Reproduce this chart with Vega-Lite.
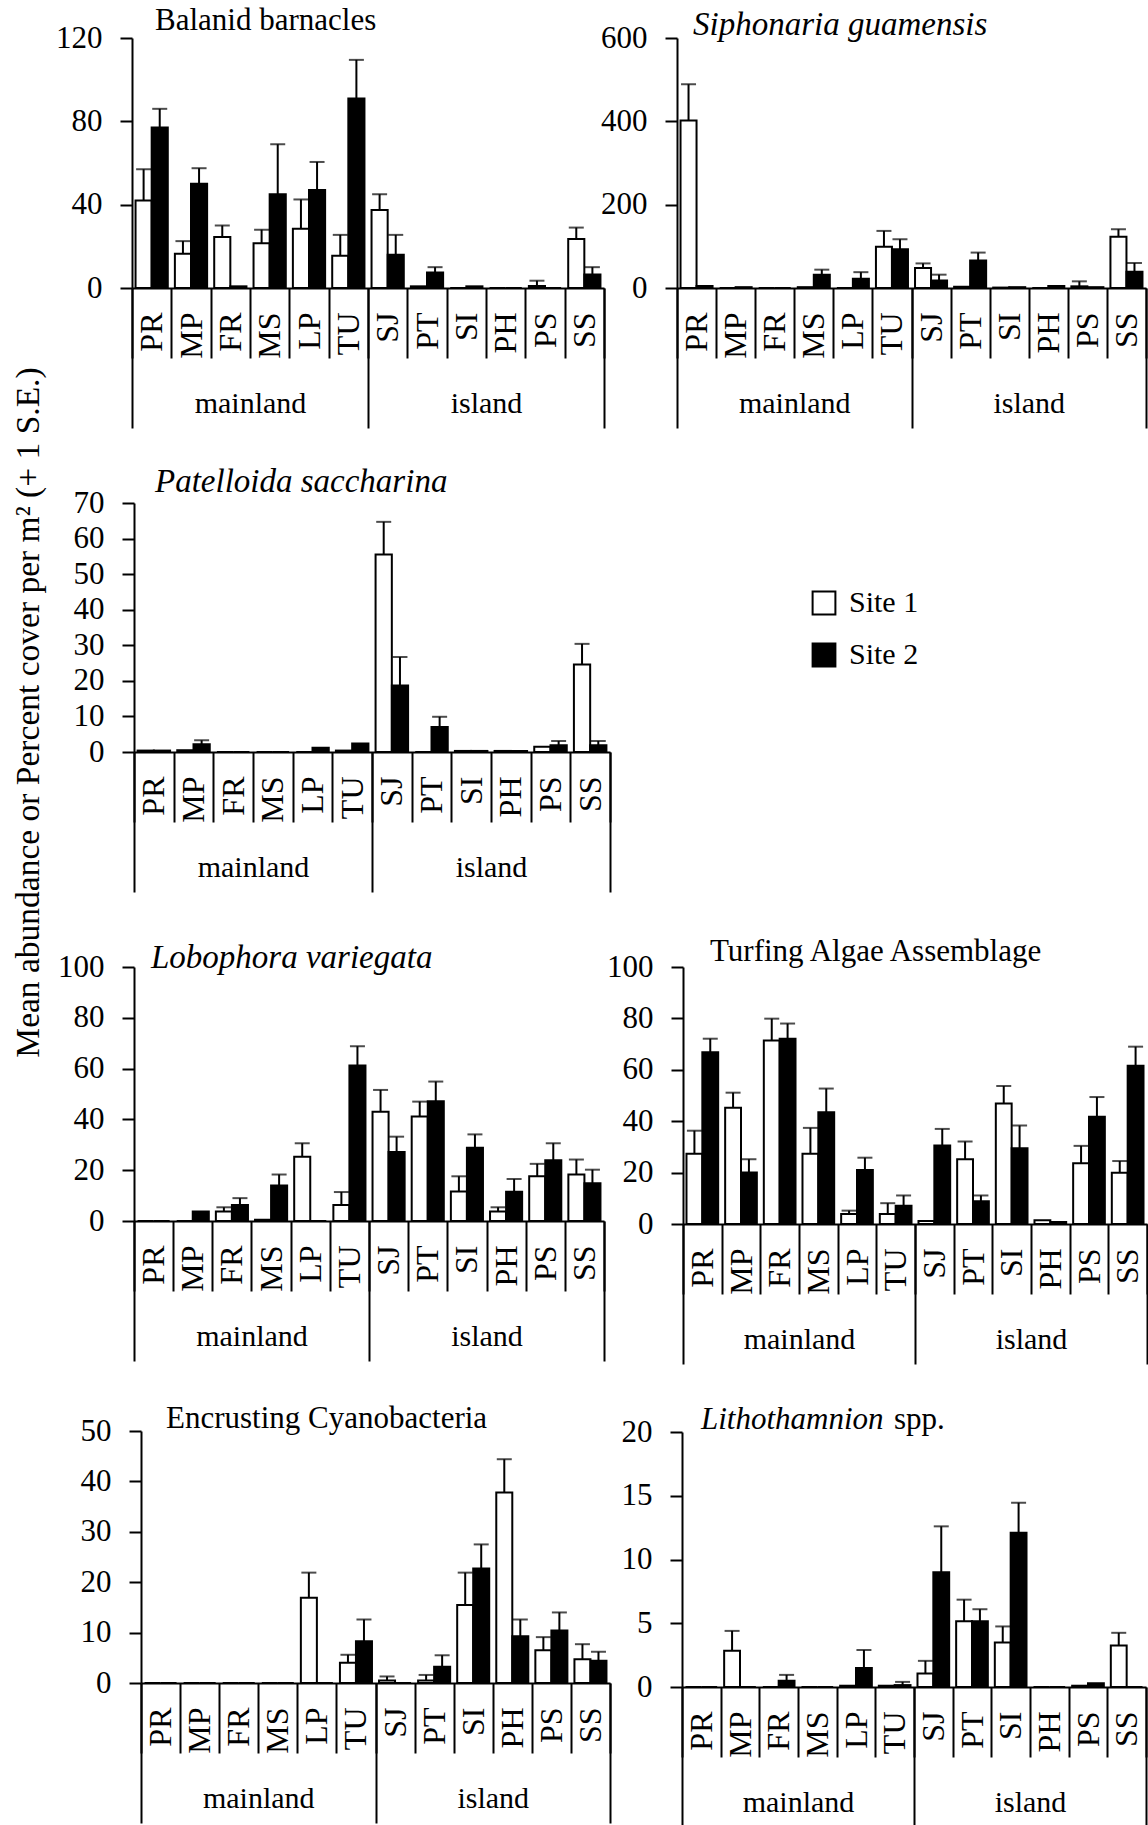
{
"$schema": "https://vega.github.io/schema/vega-lite/v6.json",
"width": 1148, "height": 1825, "autosize": {"type": "none"}, "padding": 0, "background": "white",
"config": {
  "view": {"stroke": null},
  "font": "Liberation Serif",
  "axis": {"grid": false, "labelFont": "Liberation Serif", "labelFontSize": 30, "labelColor": "black", "labelFontWeight": "normal", "tickColor": "black", "tickWidth": 2, "domainColor": "black", "domainWidth": 2, "titleFont": "Liberation Serif", "titleColor": "black", "titleFontWeight": "normal", "labelOverlap": false, "labelFlush": false},
  "axisY": {"labelFontSize": 31, "tickSize": 12, "labelPadding": 18},
  "text": {"font": "Liberation Serif", "fontSize": 31, "color": "black"}
},
"datasets": {"d": [
{"panel":"bal","site":"PR","series":"Site 1","mean":42,"upper":57},{"panel":"bal","site":"PR","series":"Site 2","mean":77,"upper":86},
{"panel":"bal","site":"MP","series":"Site 1","mean":16.5,"upper":22.5},{"panel":"bal","site":"MP","series":"Site 2","mean":50,"upper":57.5},
{"panel":"bal","site":"FR","series":"Site 1","mean":24.5,"upper":30},{"panel":"bal","site":"FR","series":"Site 2","mean":0.8,"upper":null},
{"panel":"bal","site":"MS","series":"Site 1","mean":21.5,"upper":28},{"panel":"bal","site":"MS","series":"Site 2","mean":45,"upper":69},
{"panel":"bal","site":"LP","series":"Site 1","mean":28.5,"upper":42.5},{"panel":"bal","site":"LP","series":"Site 2","mean":47,"upper":60.5},
{"panel":"bal","site":"TU","series":"Site 1","mean":15.5,"upper":25.5},{"panel":"bal","site":"TU","series":"Site 2","mean":91,"upper":109.5},
{"panel":"bal","site":"SJ","series":"Site 1","mean":37.5,"upper":45},{"panel":"bal","site":"SJ","series":"Site 2","mean":16,"upper":25.5},
{"panel":"bal","site":"PT","series":"Site 1","mean":0.8,"upper":null},{"panel":"bal","site":"PT","series":"Site 2","mean":7.5,"upper":10},
{"panel":"bal","site":"SI","series":"Site 1","mean":0,"upper":null},{"panel":"bal","site":"SI","series":"Site 2","mean":0.8,"upper":null},
{"panel":"bal","site":"PH","series":"Site 1","mean":0,"upper":null},{"panel":"bal","site":"PH","series":"Site 2","mean":0,"upper":null},
{"panel":"bal","site":"PS","series":"Site 1","mean":1,"upper":3.5},{"panel":"bal","site":"PS","series":"Site 2","mean":0,"upper":null},
{"panel":"bal","site":"SS","series":"Site 1","mean":23.5,"upper":29},{"panel":"bal","site":"SS","series":"Site 2","mean":6.5,"upper":10},
{"panel":"sip","site":"PR","series":"Site 1","mean":402,"upper":489},{"panel":"sip","site":"PR","series":"Site 2","mean":5,"upper":null},
{"panel":"sip","site":"MP","series":"Site 1","mean":0,"upper":null},{"panel":"sip","site":"MP","series":"Site 2","mean":2,"upper":null},
{"panel":"sip","site":"FR","series":"Site 1","mean":0,"upper":null},{"panel":"sip","site":"FR","series":"Site 2","mean":0,"upper":null},
{"panel":"sip","site":"MS","series":"Site 1","mean":2,"upper":null},{"panel":"sip","site":"MS","series":"Site 2","mean":32,"upper":44},
{"panel":"sip","site":"LP","series":"Site 1","mean":0,"upper":null},{"panel":"sip","site":"LP","series":"Site 2","mean":22,"upper":38},
{"panel":"sip","site":"TU","series":"Site 1","mean":99,"upper":137},{"panel":"sip","site":"TU","series":"Site 2","mean":93,"upper":117},
{"panel":"sip","site":"SJ","series":"Site 1","mean":48,"upper":59},{"panel":"sip","site":"SJ","series":"Site 2","mean":18,"upper":32},
{"panel":"sip","site":"PT","series":"Site 1","mean":3,"upper":null},{"panel":"sip","site":"PT","series":"Site 2","mean":66,"upper":85},
{"panel":"sip","site":"SI","series":"Site 1","mean":1,"upper":null},{"panel":"sip","site":"SI","series":"Site 2","mean":2,"upper":null},
{"panel":"sip","site":"PH","series":"Site 1","mean":0,"upper":null},{"panel":"sip","site":"PH","series":"Site 2","mean":5,"upper":null},
{"panel":"sip","site":"PS","series":"Site 1","mean":4,"upper":16},{"panel":"sip","site":"PS","series":"Site 2","mean":2,"upper":null},
{"panel":"sip","site":"SS","series":"Site 1","mean":123,"upper":141},{"panel":"sip","site":"SS","series":"Site 2","mean":39,"upper":60},
{"panel":"pat","site":"PR","series":"Site 1","mean":0.4,"upper":null},{"panel":"pat","site":"PR","series":"Site 2","mean":0.4,"upper":null},
{"panel":"pat","site":"MP","series":"Site 1","mean":0.5,"upper":null},{"panel":"pat","site":"MP","series":"Site 2","mean":2.2,"upper":3.3},
{"panel":"pat","site":"FR","series":"Site 1","mean":0,"upper":null},{"panel":"pat","site":"FR","series":"Site 2","mean":0,"upper":null},
{"panel":"pat","site":"MS","series":"Site 1","mean":0,"upper":null},{"panel":"pat","site":"MS","series":"Site 2","mean":0,"upper":null},
{"panel":"pat","site":"LP","series":"Site 1","mean":0,"upper":null},{"panel":"pat","site":"LP","series":"Site 2","mean":1.2,"upper":null},
{"panel":"pat","site":"TU","series":"Site 1","mean":0.4,"upper":null},{"panel":"pat","site":"TU","series":"Site 2","mean":2.4,"upper":null},
{"panel":"pat","site":"SJ","series":"Site 1","mean":55.5,"upper":64.7},{"panel":"pat","site":"SJ","series":"Site 2","mean":18.7,"upper":26.7},
{"panel":"pat","site":"PT","series":"Site 1","mean":0,"upper":null},{"panel":"pat","site":"PT","series":"Site 2","mean":7,"upper":9.9},
{"panel":"pat","site":"SI","series":"Site 1","mean":0.3,"upper":null},{"panel":"pat","site":"SI","series":"Site 2","mean":0.3,"upper":null},
{"panel":"pat","site":"PH","series":"Site 1","mean":0.3,"upper":null},{"panel":"pat","site":"PH","series":"Site 2","mean":0.3,"upper":null},
{"panel":"pat","site":"PS","series":"Site 1","mean":1.5,"upper":null},{"panel":"pat","site":"PS","series":"Site 2","mean":1.9,"upper":3.1},
{"panel":"pat","site":"SS","series":"Site 1","mean":24.6,"upper":30.4},{"panel":"pat","site":"SS","series":"Site 2","mean":1.9,"upper":3.1},
{"panel":"lob","site":"PR","series":"Site 1","mean":0,"upper":null},{"panel":"lob","site":"PR","series":"Site 2","mean":0,"upper":null},
{"panel":"lob","site":"MP","series":"Site 1","mean":0,"upper":null},{"panel":"lob","site":"MP","series":"Site 2","mean":3.7,"upper":null},
{"panel":"lob","site":"FR","series":"Site 1","mean":3.7,"upper":5.4},{"panel":"lob","site":"FR","series":"Site 2","mean":6.3,"upper":9},
{"panel":"lob","site":"MS","series":"Site 1","mean":0.5,"upper":null},{"panel":"lob","site":"MS","series":"Site 2","mean":14,"upper":18.3},
{"panel":"lob","site":"LP","series":"Site 1","mean":25.3,"upper":30.6},{"panel":"lob","site":"LP","series":"Site 2","mean":0,"upper":null},
{"panel":"lob","site":"TU","series":"Site 1","mean":6.3,"upper":11.4},{"panel":"lob","site":"TU","series":"Site 2","mean":61.2,"upper":68.8},
{"panel":"lob","site":"SJ","series":"Site 1","mean":43,"upper":51.6},{"panel":"lob","site":"SJ","series":"Site 2","mean":27.2,"upper":33.2},
{"panel":"lob","site":"PT","series":"Site 1","mean":41.1,"upper":47},{"panel":"lob","site":"PT","series":"Site 2","mean":47.1,"upper":54.9},
{"panel":"lob","site":"SI","series":"Site 1","mean":11.6,"upper":17.6},{"panel":"lob","site":"SI","series":"Site 2","mean":28.8,"upper":34.1},
{"panel":"lob","site":"PH","series":"Site 1","mean":3.7,"upper":5.4},{"panel":"lob","site":"PH","series":"Site 2","mean":11.5,"upper":16.5},
{"panel":"lob","site":"PS","series":"Site 1","mean":17.6,"upper":22.5},{"panel":"lob","site":"PS","series":"Site 2","mean":23.9,"upper":30.6},
{"panel":"lob","site":"SS","series":"Site 1","mean":18.3,"upper":24.2},{"panel":"lob","site":"SS","series":"Site 2","mean":14.9,"upper":20.2},
{"panel":"tur","site":"PR","series":"Site 1","mean":27.3,"upper":36.3},{"panel":"tur","site":"PR","series":"Site 2","mean":66.8,"upper":72.1},
{"panel":"tur","site":"MP","series":"Site 1","mean":45.2,"upper":51.1},{"panel":"tur","site":"MP","series":"Site 2","mean":20,"upper":25.2},
{"panel":"tur","site":"FR","series":"Site 1","mean":71.4,"upper":79.9},{"panel":"tur","site":"FR","series":"Site 2","mean":72.1,"upper":78},
{"panel":"tur","site":"MS","series":"Site 1","mean":27.3,"upper":37.4},{"panel":"tur","site":"MS","series":"Site 2","mean":43.5,"upper":52.7},
{"panel":"tur","site":"LP","series":"Site 1","mean":3.9,"upper":5.2},{"panel":"tur","site":"LP","series":"Site 2","mean":21,"upper":25.8},
{"panel":"tur","site":"TU","series":"Site 1","mean":3.9,"upper":8.1},{"panel":"tur","site":"TU","series":"Site 2","mean":7.1,"upper":11.1},
{"panel":"tur","site":"SJ","series":"Site 1","mean":1.2,"upper":null},{"panel":"tur","site":"SJ","series":"Site 2","mean":30.5,"upper":37},
{"panel":"tur","site":"PT","series":"Site 1","mean":25.2,"upper":32.1},{"panel":"tur","site":"PT","series":"Site 2","mean":8.9,"upper":11.1},
{"panel":"tur","site":"SI","series":"Site 1","mean":46.9,"upper":53.7},{"panel":"tur","site":"SI","series":"Site 2","mean":29.5,"upper":38.3},
{"panel":"tur","site":"PH","series":"Site 1","mean":1.5,"upper":null},{"panel":"tur","site":"PH","series":"Site 2","mean":0.8,"upper":null},
{"panel":"tur","site":"PS","series":"Site 1","mean":23.6,"upper":30.4},{"panel":"tur","site":"PS","series":"Site 2","mean":41.7,"upper":49.4},
{"panel":"tur","site":"SS","series":"Site 1","mean":19.9,"upper":24.5},{"panel":"tur","site":"SS","series":"Site 2","mean":61.6,"upper":69},
{"panel":"enc","site":"PR","series":"Site 1","mean":0,"upper":null},{"panel":"enc","site":"PR","series":"Site 2","mean":0,"upper":null},
{"panel":"enc","site":"MP","series":"Site 1","mean":0,"upper":null},{"panel":"enc","site":"MP","series":"Site 2","mean":0,"upper":null},
{"panel":"enc","site":"FR","series":"Site 1","mean":0,"upper":null},{"panel":"enc","site":"FR","series":"Site 2","mean":0,"upper":null},
{"panel":"enc","site":"MS","series":"Site 1","mean":0,"upper":null},{"panel":"enc","site":"MS","series":"Site 2","mean":0,"upper":null},
{"panel":"enc","site":"LP","series":"Site 1","mean":16.9,"upper":21.9},{"panel":"enc","site":"LP","series":"Site 2","mean":0,"upper":null},
{"panel":"enc","site":"TU","series":"Site 1","mean":4,"upper":5.6},{"panel":"enc","site":"TU","series":"Site 2","mean":8.3,"upper":12.6},
{"panel":"enc","site":"SJ","series":"Site 1","mean":0.5,"upper":1.3},{"panel":"enc","site":"SJ","series":"Site 2","mean":0,"upper":null},
{"panel":"enc","site":"PT","series":"Site 1","mean":0.5,"upper":1.6},{"panel":"enc","site":"PT","series":"Site 2","mean":3.2,"upper":5.5},
{"panel":"enc","site":"SI","series":"Site 1","mean":15.5,"upper":21.9},{"panel":"enc","site":"SI","series":"Site 2","mean":22.7,"upper":27.5},
{"panel":"enc","site":"PH","series":"Site 1","mean":37.8,"upper":44.4},{"panel":"enc","site":"PH","series":"Site 2","mean":9.3,"upper":12.6},
{"panel":"enc","site":"PS","series":"Site 1","mean":6.5,"upper":9.1},{"panel":"enc","site":"PS","series":"Site 2","mean":10.4,"upper":14},
{"panel":"enc","site":"SS","series":"Site 1","mean":4.7,"upper":7.7},{"panel":"enc","site":"SS","series":"Site 2","mean":4.4,"upper":6.2},
{"panel":"lit","site":"PR","series":"Site 1","mean":0,"upper":null},{"panel":"lit","site":"PR","series":"Site 2","mean":0,"upper":null},
{"panel":"lit","site":"MP","series":"Site 1","mean":2.85,"upper":4.4},{"panel":"lit","site":"MP","series":"Site 2","mean":0,"upper":null},
{"panel":"lit","site":"FR","series":"Site 1","mean":0,"upper":null},{"panel":"lit","site":"FR","series":"Site 2","mean":0.5,"upper":0.95},
{"panel":"lit","site":"MS","series":"Site 1","mean":0,"upper":null},{"panel":"lit","site":"MS","series":"Site 2","mean":0,"upper":null},
{"panel":"lit","site":"LP","series":"Site 1","mean":0.1,"upper":null},{"panel":"lit","site":"LP","series":"Site 2","mean":1.5,"upper":2.9},
{"panel":"lit","site":"TU","series":"Site 1","mean":0.1,"upper":null},{"panel":"lit","site":"TU","series":"Site 2","mean":0.15,"upper":0.4},
{"panel":"lit","site":"SJ","series":"Site 1","mean":1.05,"upper":2.05},{"panel":"lit","site":"SJ","series":"Site 2","mean":9,"upper":12.6},
{"panel":"lit","site":"PT","series":"Site 1","mean":5.15,"upper":6.85},{"panel":"lit","site":"PT","series":"Site 2","mean":5.15,"upper":6.1},
{"panel":"lit","site":"SI","series":"Site 1","mean":3.5,"upper":4.75},{"panel":"lit","site":"SI","series":"Site 2","mean":12.1,"upper":14.45},
{"panel":"lit","site":"PH","series":"Site 1","mean":0,"upper":null},{"panel":"lit","site":"PH","series":"Site 2","mean":0,"upper":null},
{"panel":"lit","site":"PS","series":"Site 1","mean":0.1,"upper":null},{"panel":"lit","site":"PS","series":"Site 2","mean":0.3,"upper":null},
{"panel":"lit","site":"SS","series":"Site 1","mean":3.25,"upper":4.25},{"panel":"lit","site":"SS","series":"Site 2","mean":0,"upper":null}
]},
"resolve": {"scale": {"x": "independent", "y": "independent", "xOffset": "independent"}, "axis": {"x": "independent", "y": "independent"}},
"layer": [

{"data": {"name": "d"}, "transform": [{"filter": "datum.panel === 'bal'"}], "mark": {"type": "bar", "stroke": "black", "strokeWidth": 2},
 "encoding": {
  "x": {"field": "site", "type": "nominal", "sort": null, "scale": {"domain": ["PR","MP","FR","MS","LP","TU","SJ","PT","SI","PH","PS","SS"], "range": [132, 604], "paddingInner": 0, "paddingOuter": 0},
        "axis": {"orient": "bottom", "offset": -1537, "title": null, "labelAngle": 270, "labelAlign": "right", "labelBaseline": "middle", "labelPadding": -46, "tickSize": 70, "tickBand": "extent", "labelFontSize": 32}},
  "xOffset": {"field": "series", "type": "nominal", "scale": {"domain": ["Site 1", "Site 2"], "paddingInner": 0, "paddingOuter": 0.22}},
  "y": {"field": "mean", "type": "quantitative", "scale": {"domain": [0, 120], "range": [288, 38], "nice": false, "zero": true},
        "axis": {"orient": "left", "offset": -132, "title": null, "values": [0, 40, 80, 120]}},
  "fill": {"field": "series", "type": "nominal", "scale": {"domain": ["Site 1", "Site 2"], "range": ["white", "black"]},
           "legend": {"title": null, "orient": "none", "legendX": 809, "legendY": 588, "symbolType": "square", "symbolSize": 520, "symbolStrokeColor": "black", "symbolStrokeWidth": 2, "labelFont": "Liberation Serif", "labelFontSize": 30, "labelColor": "black", "rowPadding": 20, "labelOffset": 10, "padding": 0}}}},
{"data": {"name": "d"}, "transform": [{"filter": "datum.panel === 'bal' && isValid(datum.upper)"}], "mark": {"type": "rule", "color": "black", "strokeWidth": 2},
 "encoding": {
  "x": {"field": "site", "type": "nominal", "sort": null, "scale": {"domain": ["PR","MP","FR","MS","LP","TU","SJ","PT","SI","PH","PS","SS"], "range": [132, 604], "paddingInner": 0, "paddingOuter": 0}, "axis": null},
  "xOffset": {"field": "series", "type": "nominal", "scale": {"domain": ["Site 1", "Site 2"], "paddingInner": 0, "paddingOuter": 0.22}},
  "y": {"field": "mean", "type": "quantitative", "scale": {"domain": [0, 120], "range": [288, 38], "nice": false, "zero": true}, "axis": null},
  "y2": {"field": "upper"}}},
{"data": {"name": "d"}, "transform": [{"filter": "datum.panel === 'bal' && isValid(datum.upper)"}], "mark": {"type": "tick", "color": "black", "thickness": 2, "size": 15, "orient": "horizontal"},
 "encoding": {
  "x": {"field": "site", "type": "nominal", "sort": null, "scale": {"domain": ["PR","MP","FR","MS","LP","TU","SJ","PT","SI","PH","PS","SS"], "range": [132, 604], "paddingInner": 0, "paddingOuter": 0}, "axis": null},
  "xOffset": {"field": "series", "type": "nominal", "scale": {"domain": ["Site 1", "Site 2"], "paddingInner": 0, "paddingOuter": 0.22}},
  "y": {"field": "upper", "type": "quantitative", "scale": {"domain": [0, 120], "range": [288, 38], "nice": false, "zero": true}, "axis": null}}},
{"data": {"values": [{"label": "Balanid barnacles"}]}, "mark": {"type": "text", "align": "left", "baseline": "middle", "dx": 23, "dy": -17},
 "encoding": {
  "x": {"datum": "PR", "type": "nominal", "scale": {"type": "point", "domain": ["PR","MP","FR","MS","LP","TU","SJ","PT","SI","PH","PS","SS"], "range": [132, 604], "padding": 0}, "axis": null},
  "y": {"datum": 120, "type": "quantitative", "scale": {"domain": [0, 120], "range": [288, 38], "nice": false}, "axis": null},
  "text": {"field": "label"}}},
{"data": {"values": [{"region": "mainland"}, {"region": "island"}]}, "mark": {"type": "rule", "opacity": 0},
 "encoding": {"x": {"field": "region", "type": "nominal", "sort": null, "scale": {"domain": ["mainland", "island"], "range": [132, 604], "paddingInner": 0, "paddingOuter": 0},
   "axis": {"orient": "bottom", "offset": -1537, "title": null, "labelAngle": 0, "labelAlign": "center", "labelBaseline": "middle", "labelPadding": -25, "tickSize": 140, "tickBand": "extent", "domain": false}}}},

{"data": {"name": "d"}, "transform": [{"filter": "datum.panel === 'sip'"}], "mark": {"type": "bar", "stroke": "black", "strokeWidth": 2},
 "encoding": {
  "x": {"field": "site", "type": "nominal", "sort": null, "scale": {"domain": ["PR","MP","FR","MS","LP","TU","SJ","PT","SI","PH","PS","SS"], "range": [677, 1146], "paddingInner": 0, "paddingOuter": 0},
        "axis": {"orient": "bottom", "offset": -1537, "title": null, "labelAngle": 270, "labelAlign": "right", "labelBaseline": "middle", "labelPadding": -46, "tickSize": 70, "tickBand": "extent", "labelFontSize": 32}},
  "xOffset": {"field": "series", "type": "nominal", "scale": {"domain": ["Site 1", "Site 2"], "paddingInner": 0, "paddingOuter": 0.22}},
  "y": {"field": "mean", "type": "quantitative", "scale": {"domain": [0, 600], "range": [288, 38], "nice": false, "zero": true},
        "axis": {"orient": "left", "offset": -677, "title": null, "values": [0, 200, 400, 600]}},
  "fill": {"field": "series", "type": "nominal", "scale": {"domain": ["Site 1", "Site 2"], "range": ["white", "black"]},
           "legend": {"title": null, "orient": "none", "legendX": 809, "legendY": 588, "symbolType": "square", "symbolSize": 520, "symbolStrokeColor": "black", "symbolStrokeWidth": 2, "labelFont": "Liberation Serif", "labelFontSize": 30, "labelColor": "black", "rowPadding": 20, "labelOffset": 10, "padding": 0}}}},
{"data": {"name": "d"}, "transform": [{"filter": "datum.panel === 'sip' && isValid(datum.upper)"}], "mark": {"type": "rule", "color": "black", "strokeWidth": 2},
 "encoding": {
  "x": {"field": "site", "type": "nominal", "sort": null, "scale": {"domain": ["PR","MP","FR","MS","LP","TU","SJ","PT","SI","PH","PS","SS"], "range": [677, 1146], "paddingInner": 0, "paddingOuter": 0}, "axis": null},
  "xOffset": {"field": "series", "type": "nominal", "scale": {"domain": ["Site 1", "Site 2"], "paddingInner": 0, "paddingOuter": 0.22}},
  "y": {"field": "mean", "type": "quantitative", "scale": {"domain": [0, 600], "range": [288, 38], "nice": false, "zero": true}, "axis": null},
  "y2": {"field": "upper"}}},
{"data": {"name": "d"}, "transform": [{"filter": "datum.panel === 'sip' && isValid(datum.upper)"}], "mark": {"type": "tick", "color": "black", "thickness": 2, "size": 15, "orient": "horizontal"},
 "encoding": {
  "x": {"field": "site", "type": "nominal", "sort": null, "scale": {"domain": ["PR","MP","FR","MS","LP","TU","SJ","PT","SI","PH","PS","SS"], "range": [677, 1146], "paddingInner": 0, "paddingOuter": 0}, "axis": null},
  "xOffset": {"field": "series", "type": "nominal", "scale": {"domain": ["Site 1", "Site 2"], "paddingInner": 0, "paddingOuter": 0.22}},
  "y": {"field": "upper", "type": "quantitative", "scale": {"domain": [0, 600], "range": [288, 38], "nice": false, "zero": true}, "axis": null}}},
{"data": {"values": [{"label": "Siphonaria guamensis"}]}, "mark": {"type": "text", "align": "left", "baseline": "middle", "dx": 16, "dy": -13, "fontStyle": "italic", "fontSize": 33},
 "encoding": {
  "x": {"datum": "PR", "type": "nominal", "scale": {"type": "point", "domain": ["PR","MP","FR","MS","LP","TU","SJ","PT","SI","PH","PS","SS"], "range": [677, 1146], "padding": 0}, "axis": null},
  "y": {"datum": 600, "type": "quantitative", "scale": {"domain": [0, 600], "range": [288, 38], "nice": false}, "axis": null},
  "text": {"field": "label"}}},
{"data": {"values": [{"region": "mainland"}, {"region": "island"}]}, "mark": {"type": "rule", "opacity": 0},
 "encoding": {"x": {"field": "region", "type": "nominal", "sort": null, "scale": {"domain": ["mainland", "island"], "range": [677, 1146], "paddingInner": 0, "paddingOuter": 0},
   "axis": {"orient": "bottom", "offset": -1537, "title": null, "labelAngle": 0, "labelAlign": "center", "labelBaseline": "middle", "labelPadding": -25, "tickSize": 140, "tickBand": "extent", "domain": false}}}},

{"data": {"name": "d"}, "transform": [{"filter": "datum.panel === 'pat'"}], "mark": {"type": "bar", "stroke": "black", "strokeWidth": 2},
 "encoding": {
  "x": {"field": "site", "type": "nominal", "sort": null, "scale": {"domain": ["PR","MP","FR","MS","LP","TU","SJ","PT","SI","PH","PS","SS"], "range": [134, 610], "paddingInner": 0, "paddingOuter": 0},
        "axis": {"orient": "bottom", "offset": -1073, "title": null, "labelAngle": 270, "labelAlign": "right", "labelBaseline": "middle", "labelPadding": -46, "tickSize": 70, "tickBand": "extent", "labelFontSize": 32}},
  "xOffset": {"field": "series", "type": "nominal", "scale": {"domain": ["Site 1", "Site 2"], "paddingInner": 0, "paddingOuter": 0.22}},
  "y": {"field": "mean", "type": "quantitative", "scale": {"domain": [0, 70], "range": [752, 503], "nice": false, "zero": true},
        "axis": {"orient": "left", "offset": -134, "values": [0, 10, 20, 30, 40, 50, 60, 70],
                 "title": "Mean abundance or Percent cover per m² (+ 1 S.E.)", "titleX": -106, "titleY": 712, "titleAngle": 270, "titleAlign": "center", "titleBaseline": "middle", "titleFontSize": 33.5}},
  "fill": {"field": "series", "type": "nominal", "scale": {"domain": ["Site 1", "Site 2"], "range": ["white", "black"]},
           "legend": {"title": null, "orient": "none", "legendX": 809, "legendY": 588, "symbolType": "square", "symbolSize": 520, "symbolStrokeColor": "black", "symbolStrokeWidth": 2, "labelFont": "Liberation Serif", "labelFontSize": 30, "labelColor": "black", "rowPadding": 20, "labelOffset": 10, "padding": 0}}}},
{"data": {"name": "d"}, "transform": [{"filter": "datum.panel === 'pat' && isValid(datum.upper)"}], "mark": {"type": "rule", "color": "black", "strokeWidth": 2},
 "encoding": {
  "x": {"field": "site", "type": "nominal", "sort": null, "scale": {"domain": ["PR","MP","FR","MS","LP","TU","SJ","PT","SI","PH","PS","SS"], "range": [134, 610], "paddingInner": 0, "paddingOuter": 0}, "axis": null},
  "xOffset": {"field": "series", "type": "nominal", "scale": {"domain": ["Site 1", "Site 2"], "paddingInner": 0, "paddingOuter": 0.22}},
  "y": {"field": "mean", "type": "quantitative", "scale": {"domain": [0, 70], "range": [752, 503], "nice": false, "zero": true}, "axis": null},
  "y2": {"field": "upper"}}},
{"data": {"name": "d"}, "transform": [{"filter": "datum.panel === 'pat' && isValid(datum.upper)"}], "mark": {"type": "tick", "color": "black", "thickness": 2, "size": 15, "orient": "horizontal"},
 "encoding": {
  "x": {"field": "site", "type": "nominal", "sort": null, "scale": {"domain": ["PR","MP","FR","MS","LP","TU","SJ","PT","SI","PH","PS","SS"], "range": [134, 610], "paddingInner": 0, "paddingOuter": 0}, "axis": null},
  "xOffset": {"field": "series", "type": "nominal", "scale": {"domain": ["Site 1", "Site 2"], "paddingInner": 0, "paddingOuter": 0.22}},
  "y": {"field": "upper", "type": "quantitative", "scale": {"domain": [0, 70], "range": [752, 503], "nice": false, "zero": true}, "axis": null}}},
{"data": {"values": [{"label": "Patelloida saccharina"}]}, "mark": {"type": "text", "align": "left", "baseline": "middle", "dx": 21, "dy": -21, "fontStyle": "italic", "fontSize": 33},
 "encoding": {
  "x": {"datum": "PR", "type": "nominal", "scale": {"type": "point", "domain": ["PR","MP","FR","MS","LP","TU","SJ","PT","SI","PH","PS","SS"], "range": [134, 610], "padding": 0}, "axis": null},
  "y": {"datum": 70, "type": "quantitative", "scale": {"domain": [0, 70], "range": [752, 503], "nice": false}, "axis": null},
  "text": {"field": "label"}}},
{"data": {"values": [{"region": "mainland"}, {"region": "island"}]}, "mark": {"type": "rule", "opacity": 0},
 "encoding": {"x": {"field": "region", "type": "nominal", "sort": null, "scale": {"domain": ["mainland", "island"], "range": [134, 610], "paddingInner": 0, "paddingOuter": 0},
   "axis": {"orient": "bottom", "offset": -1073, "title": null, "labelAngle": 0, "labelAlign": "center", "labelBaseline": "middle", "labelPadding": -25, "tickSize": 140, "tickBand": "extent", "domain": false}}}},

{"data": {"name": "d"}, "transform": [{"filter": "datum.panel === 'lob'"}], "mark": {"type": "bar", "stroke": "black", "strokeWidth": 2},
 "encoding": {
  "x": {"field": "site", "type": "nominal", "sort": null, "scale": {"domain": ["PR","MP","FR","MS","LP","TU","SJ","PT","SI","PH","PS","SS"], "range": [134, 604], "paddingInner": 0, "paddingOuter": 0},
        "axis": {"orient": "bottom", "offset": -604, "title": null, "labelAngle": 270, "labelAlign": "right", "labelBaseline": "middle", "labelPadding": -46, "tickSize": 70, "tickBand": "extent", "labelFontSize": 32}},
  "xOffset": {"field": "series", "type": "nominal", "scale": {"domain": ["Site 1", "Site 2"], "paddingInner": 0, "paddingOuter": 0.22}},
  "y": {"field": "mean", "type": "quantitative", "scale": {"domain": [0, 100], "range": [1221, 967], "nice": false, "zero": true},
        "axis": {"orient": "left", "offset": -134, "title": null, "values": [0, 20, 40, 60, 80, 100]}},
  "fill": {"field": "series", "type": "nominal", "scale": {"domain": ["Site 1", "Site 2"], "range": ["white", "black"]},
           "legend": {"title": null, "orient": "none", "legendX": 809, "legendY": 588, "symbolType": "square", "symbolSize": 520, "symbolStrokeColor": "black", "symbolStrokeWidth": 2, "labelFont": "Liberation Serif", "labelFontSize": 30, "labelColor": "black", "rowPadding": 20, "labelOffset": 10, "padding": 0}}}},
{"data": {"name": "d"}, "transform": [{"filter": "datum.panel === 'lob' && isValid(datum.upper)"}], "mark": {"type": "rule", "color": "black", "strokeWidth": 2},
 "encoding": {
  "x": {"field": "site", "type": "nominal", "sort": null, "scale": {"domain": ["PR","MP","FR","MS","LP","TU","SJ","PT","SI","PH","PS","SS"], "range": [134, 604], "paddingInner": 0, "paddingOuter": 0}, "axis": null},
  "xOffset": {"field": "series", "type": "nominal", "scale": {"domain": ["Site 1", "Site 2"], "paddingInner": 0, "paddingOuter": 0.22}},
  "y": {"field": "mean", "type": "quantitative", "scale": {"domain": [0, 100], "range": [1221, 967], "nice": false, "zero": true}, "axis": null},
  "y2": {"field": "upper"}}},
{"data": {"name": "d"}, "transform": [{"filter": "datum.panel === 'lob' && isValid(datum.upper)"}], "mark": {"type": "tick", "color": "black", "thickness": 2, "size": 15, "orient": "horizontal"},
 "encoding": {
  "x": {"field": "site", "type": "nominal", "sort": null, "scale": {"domain": ["PR","MP","FR","MS","LP","TU","SJ","PT","SI","PH","PS","SS"], "range": [134, 604], "paddingInner": 0, "paddingOuter": 0}, "axis": null},
  "xOffset": {"field": "series", "type": "nominal", "scale": {"domain": ["Site 1", "Site 2"], "paddingInner": 0, "paddingOuter": 0.22}},
  "y": {"field": "upper", "type": "quantitative", "scale": {"domain": [0, 100], "range": [1221, 967], "nice": false, "zero": true}, "axis": null}}},
{"data": {"values": [{"label": "Lobophora variegata"}]}, "mark": {"type": "text", "align": "left", "baseline": "middle", "dx": 17, "dy": -9, "fontStyle": "italic", "fontSize": 33},
 "encoding": {
  "x": {"datum": "PR", "type": "nominal", "scale": {"type": "point", "domain": ["PR","MP","FR","MS","LP","TU","SJ","PT","SI","PH","PS","SS"], "range": [134, 604], "padding": 0}, "axis": null},
  "y": {"datum": 100, "type": "quantitative", "scale": {"domain": [0, 100], "range": [1221, 967], "nice": false}, "axis": null},
  "text": {"field": "label"}}},
{"data": {"values": [{"region": "mainland"}, {"region": "island"}]}, "mark": {"type": "rule", "opacity": 0},
 "encoding": {"x": {"field": "region", "type": "nominal", "sort": null, "scale": {"domain": ["mainland", "island"], "range": [134, 604], "paddingInner": 0, "paddingOuter": 0},
   "axis": {"orient": "bottom", "offset": -604, "title": null, "labelAngle": 0, "labelAlign": "center", "labelBaseline": "middle", "labelPadding": -25, "tickSize": 140, "tickBand": "extent", "domain": false}}}},

{"data": {"name": "d"}, "transform": [{"filter": "datum.panel === 'tur'"}], "mark": {"type": "bar", "stroke": "black", "strokeWidth": 2},
 "encoding": {
  "x": {"field": "site", "type": "nominal", "sort": null, "scale": {"domain": ["PR","MP","FR","MS","LP","TU","SJ","PT","SI","PH","PS","SS"], "range": [683, 1147], "paddingInner": 0, "paddingOuter": 0},
        "axis": {"orient": "bottom", "offset": -601, "title": null, "labelAngle": 270, "labelAlign": "right", "labelBaseline": "middle", "labelPadding": -46, "tickSize": 70, "tickBand": "extent", "labelFontSize": 32}},
  "xOffset": {"field": "series", "type": "nominal", "scale": {"domain": ["Site 1", "Site 2"], "paddingInner": 0, "paddingOuter": 0.22}},
  "y": {"field": "mean", "type": "quantitative", "scale": {"domain": [0, 100], "range": [1224, 967], "nice": false, "zero": true},
        "axis": {"orient": "left", "offset": -683, "title": null, "values": [0, 20, 40, 60, 80, 100]}},
  "fill": {"field": "series", "type": "nominal", "scale": {"domain": ["Site 1", "Site 2"], "range": ["white", "black"]},
           "legend": {"title": null, "orient": "none", "legendX": 809, "legendY": 588, "symbolType": "square", "symbolSize": 520, "symbolStrokeColor": "black", "symbolStrokeWidth": 2, "labelFont": "Liberation Serif", "labelFontSize": 30, "labelColor": "black", "rowPadding": 20, "labelOffset": 10, "padding": 0}}}},
{"data": {"name": "d"}, "transform": [{"filter": "datum.panel === 'tur' && isValid(datum.upper)"}], "mark": {"type": "rule", "color": "black", "strokeWidth": 2},
 "encoding": {
  "x": {"field": "site", "type": "nominal", "sort": null, "scale": {"domain": ["PR","MP","FR","MS","LP","TU","SJ","PT","SI","PH","PS","SS"], "range": [683, 1147], "paddingInner": 0, "paddingOuter": 0}, "axis": null},
  "xOffset": {"field": "series", "type": "nominal", "scale": {"domain": ["Site 1", "Site 2"], "paddingInner": 0, "paddingOuter": 0.22}},
  "y": {"field": "mean", "type": "quantitative", "scale": {"domain": [0, 100], "range": [1224, 967], "nice": false, "zero": true}, "axis": null},
  "y2": {"field": "upper"}}},
{"data": {"name": "d"}, "transform": [{"filter": "datum.panel === 'tur' && isValid(datum.upper)"}], "mark": {"type": "tick", "color": "black", "thickness": 2, "size": 15, "orient": "horizontal"},
 "encoding": {
  "x": {"field": "site", "type": "nominal", "sort": null, "scale": {"domain": ["PR","MP","FR","MS","LP","TU","SJ","PT","SI","PH","PS","SS"], "range": [683, 1147], "paddingInner": 0, "paddingOuter": 0}, "axis": null},
  "xOffset": {"field": "series", "type": "nominal", "scale": {"domain": ["Site 1", "Site 2"], "paddingInner": 0, "paddingOuter": 0.22}},
  "y": {"field": "upper", "type": "quantitative", "scale": {"domain": [0, 100], "range": [1224, 967], "nice": false, "zero": true}, "axis": null}}},
{"data": {"values": [{"label": "Turfing Algae Assemblage"}]}, "mark": {"type": "text", "align": "left", "baseline": "middle", "dx": 27, "dy": -15},
 "encoding": {
  "x": {"datum": "PR", "type": "nominal", "scale": {"type": "point", "domain": ["PR","MP","FR","MS","LP","TU","SJ","PT","SI","PH","PS","SS"], "range": [683, 1147], "padding": 0}, "axis": null},
  "y": {"datum": 100, "type": "quantitative", "scale": {"domain": [0, 100], "range": [1224, 967], "nice": false}, "axis": null},
  "text": {"field": "label"}}},
{"data": {"values": [{"region": "mainland"}, {"region": "island"}]}, "mark": {"type": "rule", "opacity": 0},
 "encoding": {"x": {"field": "region", "type": "nominal", "sort": null, "scale": {"domain": ["mainland", "island"], "range": [683, 1147], "paddingInner": 0, "paddingOuter": 0},
   "axis": {"orient": "bottom", "offset": -601, "title": null, "labelAngle": 0, "labelAlign": "center", "labelBaseline": "middle", "labelPadding": -25, "tickSize": 140, "tickBand": "extent", "domain": false}}}},

{"data": {"name": "d"}, "transform": [{"filter": "datum.panel === 'enc'"}], "mark": {"type": "bar", "stroke": "black", "strokeWidth": 2},
 "encoding": {
  "x": {"field": "site", "type": "nominal", "sort": null, "scale": {"domain": ["PR","MP","FR","MS","LP","TU","SJ","PT","SI","PH","PS","SS"], "range": [141, 610], "paddingInner": 0, "paddingOuter": 0},
        "axis": {"orient": "bottom", "offset": -142, "title": null, "labelAngle": 270, "labelAlign": "right", "labelBaseline": "middle", "labelPadding": -46, "tickSize": 70, "tickBand": "extent", "labelFontSize": 32}},
  "xOffset": {"field": "series", "type": "nominal", "scale": {"domain": ["Site 1", "Site 2"], "paddingInner": 0, "paddingOuter": 0.22}},
  "y": {"field": "mean", "type": "quantitative", "scale": {"domain": [0, 50], "range": [1683, 1431], "nice": false, "zero": true},
        "axis": {"orient": "left", "offset": -141, "title": null, "values": [0, 10, 20, 30, 40, 50]}},
  "fill": {"field": "series", "type": "nominal", "scale": {"domain": ["Site 1", "Site 2"], "range": ["white", "black"]},
           "legend": {"title": null, "orient": "none", "legendX": 809, "legendY": 588, "symbolType": "square", "symbolSize": 520, "symbolStrokeColor": "black", "symbolStrokeWidth": 2, "labelFont": "Liberation Serif", "labelFontSize": 30, "labelColor": "black", "rowPadding": 20, "labelOffset": 10, "padding": 0}}}},
{"data": {"name": "d"}, "transform": [{"filter": "datum.panel === 'enc' && isValid(datum.upper)"}], "mark": {"type": "rule", "color": "black", "strokeWidth": 2},
 "encoding": {
  "x": {"field": "site", "type": "nominal", "sort": null, "scale": {"domain": ["PR","MP","FR","MS","LP","TU","SJ","PT","SI","PH","PS","SS"], "range": [141, 610], "paddingInner": 0, "paddingOuter": 0}, "axis": null},
  "xOffset": {"field": "series", "type": "nominal", "scale": {"domain": ["Site 1", "Site 2"], "paddingInner": 0, "paddingOuter": 0.22}},
  "y": {"field": "mean", "type": "quantitative", "scale": {"domain": [0, 50], "range": [1683, 1431], "nice": false, "zero": true}, "axis": null},
  "y2": {"field": "upper"}}},
{"data": {"name": "d"}, "transform": [{"filter": "datum.panel === 'enc' && isValid(datum.upper)"}], "mark": {"type": "tick", "color": "black", "thickness": 2, "size": 15, "orient": "horizontal"},
 "encoding": {
  "x": {"field": "site", "type": "nominal", "sort": null, "scale": {"domain": ["PR","MP","FR","MS","LP","TU","SJ","PT","SI","PH","PS","SS"], "range": [141, 610], "paddingInner": 0, "paddingOuter": 0}, "axis": null},
  "xOffset": {"field": "series", "type": "nominal", "scale": {"domain": ["Site 1", "Site 2"], "paddingInner": 0, "paddingOuter": 0.22}},
  "y": {"field": "upper", "type": "quantitative", "scale": {"domain": [0, 50], "range": [1683, 1431], "nice": false, "zero": true}, "axis": null}}},
{"data": {"values": [{"label": "Encrusting Cyanobacteria"}]}, "mark": {"type": "text", "align": "left", "baseline": "middle", "dx": 25, "dy": -12},
 "encoding": {
  "x": {"datum": "PR", "type": "nominal", "scale": {"type": "point", "domain": ["PR","MP","FR","MS","LP","TU","SJ","PT","SI","PH","PS","SS"], "range": [141, 610], "padding": 0}, "axis": null},
  "y": {"datum": 50, "type": "quantitative", "scale": {"domain": [0, 50], "range": [1683, 1431], "nice": false}, "axis": null},
  "text": {"field": "label"}}},
{"data": {"values": [{"region": "mainland"}, {"region": "island"}]}, "mark": {"type": "rule", "opacity": 0},
 "encoding": {"x": {"field": "region", "type": "nominal", "sort": null, "scale": {"domain": ["mainland", "island"], "range": [141, 610], "paddingInner": 0, "paddingOuter": 0},
   "axis": {"orient": "bottom", "offset": -142, "title": null, "labelAngle": 0, "labelAlign": "center", "labelBaseline": "middle", "labelPadding": -25, "tickSize": 140, "tickBand": "extent", "domain": false}}}},

{"data": {"name": "d"}, "transform": [{"filter": "datum.panel === 'lit'"}], "mark": {"type": "bar", "stroke": "black", "strokeWidth": 2},
 "encoding": {
  "x": {"field": "site", "type": "nominal", "sort": null, "scale": {"domain": ["PR","MP","FR","MS","LP","TU","SJ","PT","SI","PH","PS","SS"], "range": [682, 1146], "paddingInner": 0, "paddingOuter": 0},
        "axis": {"orient": "bottom", "offset": -138, "title": null, "labelAngle": 270, "labelAlign": "right", "labelBaseline": "middle", "labelPadding": -46, "tickSize": 70, "tickBand": "extent", "labelFontSize": 32}},
  "xOffset": {"field": "series", "type": "nominal", "scale": {"domain": ["Site 1", "Site 2"], "paddingInner": 0, "paddingOuter": 0.22}},
  "y": {"field": "mean", "type": "quantitative", "scale": {"domain": [0, 20], "range": [1687, 1432], "nice": false, "zero": true},
        "axis": {"orient": "left", "offset": -682, "title": null, "values": [0, 5, 10, 15, 20]}},
  "fill": {"field": "series", "type": "nominal", "scale": {"domain": ["Site 1", "Site 2"], "range": ["white", "black"]},
           "legend": {"title": null, "orient": "none", "legendX": 809, "legendY": 588, "symbolType": "square", "symbolSize": 520, "symbolStrokeColor": "black", "symbolStrokeWidth": 2, "labelFont": "Liberation Serif", "labelFontSize": 30, "labelColor": "black", "rowPadding": 20, "labelOffset": 10, "padding": 0}}}},
{"data": {"name": "d"}, "transform": [{"filter": "datum.panel === 'lit' && isValid(datum.upper)"}], "mark": {"type": "rule", "color": "black", "strokeWidth": 2},
 "encoding": {
  "x": {"field": "site", "type": "nominal", "sort": null, "scale": {"domain": ["PR","MP","FR","MS","LP","TU","SJ","PT","SI","PH","PS","SS"], "range": [682, 1146], "paddingInner": 0, "paddingOuter": 0}, "axis": null},
  "xOffset": {"field": "series", "type": "nominal", "scale": {"domain": ["Site 1", "Site 2"], "paddingInner": 0, "paddingOuter": 0.22}},
  "y": {"field": "mean", "type": "quantitative", "scale": {"domain": [0, 20], "range": [1687, 1432], "nice": false, "zero": true}, "axis": null},
  "y2": {"field": "upper"}}},
{"data": {"name": "d"}, "transform": [{"filter": "datum.panel === 'lit' && isValid(datum.upper)"}], "mark": {"type": "tick", "color": "black", "thickness": 2, "size": 15, "orient": "horizontal"},
 "encoding": {
  "x": {"field": "site", "type": "nominal", "sort": null, "scale": {"domain": ["PR","MP","FR","MS","LP","TU","SJ","PT","SI","PH","PS","SS"], "range": [682, 1146], "paddingInner": 0, "paddingOuter": 0}, "axis": null},
  "xOffset": {"field": "series", "type": "nominal", "scale": {"domain": ["Site 1", "Site 2"], "paddingInner": 0, "paddingOuter": 0.22}},
  "y": {"field": "upper", "type": "quantitative", "scale": {"domain": [0, 20], "range": [1687, 1432], "nice": false, "zero": true}, "axis": null}}},
{"data": {"values": [{"label": "Lithothamnion"}]}, "mark": {"type": "text", "align": "left", "baseline": "middle", "dx": 19, "dy": -12, "fontStyle": "italic"},
 "encoding": {
  "x": {"datum": "PR", "type": "nominal", "scale": {"type": "point", "domain": ["PR","MP","FR","MS","LP","TU","SJ","PT","SI","PH","PS","SS"], "range": [682, 1146], "padding": 0}, "axis": null},
  "y": {"datum": 20, "type": "quantitative", "scale": {"domain": [0, 20], "range": [1687, 1432], "nice": false}, "axis": null},
  "text": {"field": "label"}}},
{"data": {"values": [{"label": "spp."}]}, "mark": {"type": "text", "align": "left", "baseline": "middle", "dx": 212, "dy": -12},
 "encoding": {
  "x": {"datum": "PR", "type": "nominal", "scale": {"type": "point", "domain": ["PR","MP","FR","MS","LP","TU","SJ","PT","SI","PH","PS","SS"], "range": [682, 1146], "padding": 0}, "axis": null},
  "y": {"datum": 20, "type": "quantitative", "scale": {"domain": [0, 20], "range": [1687, 1432], "nice": false}, "axis": null},
  "text": {"field": "label"}}},
{"data": {"values": [{"region": "mainland"}, {"region": "island"}]}, "mark": {"type": "rule", "opacity": 0},
 "encoding": {"x": {"field": "region", "type": "nominal", "sort": null, "scale": {"domain": ["mainland", "island"], "range": [682, 1146], "paddingInner": 0, "paddingOuter": 0},
   "axis": {"orient": "bottom", "offset": -138, "title": null, "labelAngle": 0, "labelAlign": "center", "labelBaseline": "middle", "labelPadding": -25, "tickSize": 140, "tickBand": "extent", "domain": false}}}}
]
}
